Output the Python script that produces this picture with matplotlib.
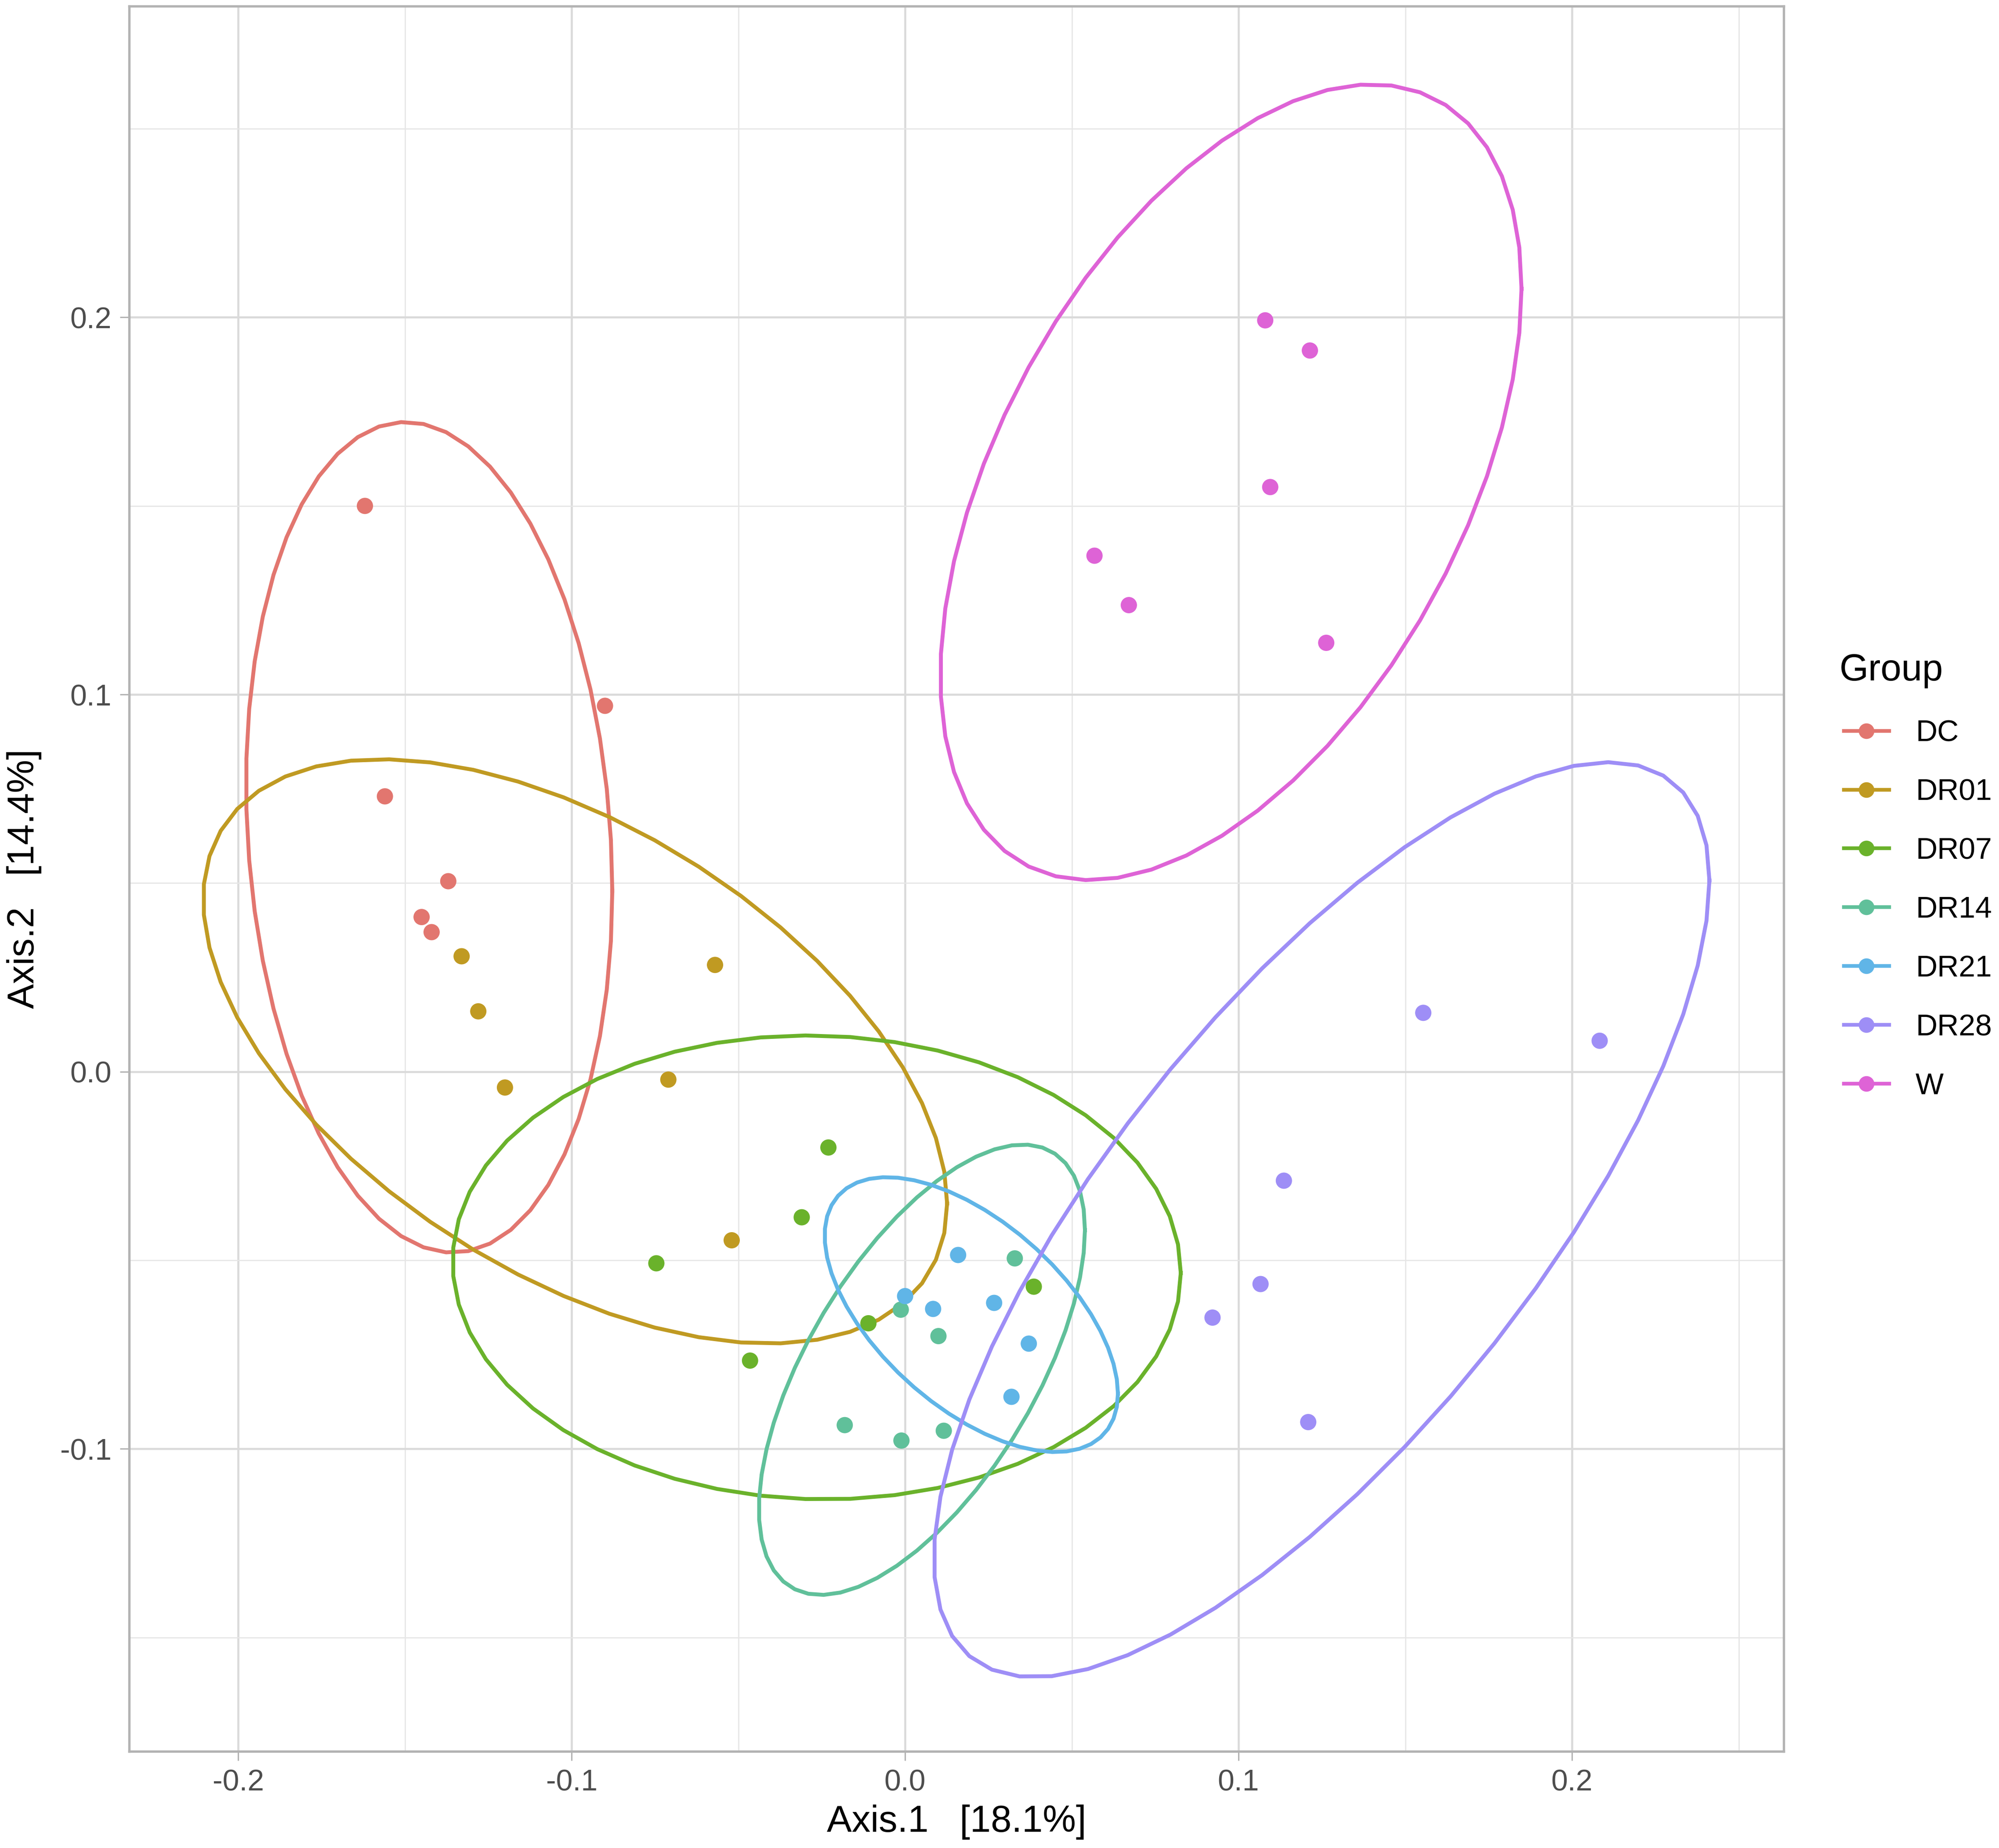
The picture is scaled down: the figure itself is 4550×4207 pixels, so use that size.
import numpy as np
import matplotlib.pyplot as plt
from matplotlib.lines import Line2D
from matplotlib.ticker import MultipleLocator, FormatStrFormatter

plt.rcParams['font.family'] = ['Liberation Sans', 'DejaVu Sans']

# --- data ---
groups = ["DC", "DR01", "DR07", "DR14", "DR21", "DR28", "W"]
colors = ["#E2766F", "#C09A22", "#6AB22B", "#60C09A", "#60B5E7", "#9E8EF6", "#DE63D6"]

axis1_dc = [-0.162, -0.090, -0.156, -0.137, -0.145, -0.142]
axis2_dc = [0.150, 0.097, 0.073, 0.0505, 0.041, 0.037]
axis1_dr01 = [-0.133, -0.128, -0.120, -0.057, -0.071, -0.052]
axis2_dr01 = [0.0306, 0.016, -0.0042, 0.0283, -0.0021, -0.0447]
axis1_dr07 = [-0.023, -0.031, -0.0746, -0.011, -0.0465, 0.0386]
axis2_dr07 = [-0.0201, -0.0386, -0.0508, -0.0667, -0.0766, -0.057]
axis1_dr14 = [0.0329, -0.0013, 0.010, -0.0181, -0.0011, 0.0116]
axis2_dr14 = [-0.0495, -0.0631, -0.0701, -0.0937, -0.0978, -0.0952]
axis1_dr21 = [0.0159, 0.000, 0.0084, 0.0267, 0.0371, 0.0319]
axis2_dr21 = [-0.0486, -0.0595, -0.0629, -0.0613, -0.0721, -0.0862]
axis1_dr28 = [0.1554, 0.2083, 0.1136, 0.1066, 0.0922, 0.1209]
axis2_dr28 = [0.0156, 0.0082, -0.0289, -0.0563, -0.0652, -0.0929]
axis1_w = [0.108, 0.1214, 0.1095, 0.0568, 0.0671, 0.1263]
axis2_w = [0.1992, 0.1912, 0.155, 0.1368, 0.1237, 0.1137]

axis1 = [axis1_dc, axis1_dr01, axis1_dr07, axis1_dr14, axis1_dr21, axis1_dr28, axis1_w]
axis2 = [axis2_dc, axis2_dr01, axis2_dr07, axis2_dr14, axis2_dr21, axis2_dr28, axis2_w]

xlabel = "Axis.1   [18.1%]"
ylabel = "Axis.2   [14.4%]"


def cov_trob(x, nu=5, maxit=25, tol=0.01):
    # same iteration as MASS::cov.trob (multivariate t)
    n, p = x.shape
    wt = np.ones(n)
    loc = x.mean(axis=0)
    w = np.sqrt(wt)
    for it in range(maxit):
        w0 = w
        X = x - loc
        u, d, vt = np.linalg.svd(np.sqrt(w / w.sum())[:, None] * X, full_matrices=False)
        wX = X @ vt.T @ np.diag(1 / d)
        Q = (wX ** 2).sum(axis=1)
        w = wt * (nu + p) / (nu + Q)
        loc = (w[:, None] * x).sum(axis=0) / w.sum()
        if np.all(np.abs(w - w0) < tol):
            break
    sX = np.sqrt(w)[:, None] * X
    return sX.T @ sX / wt.sum(), loc


def ellipse(xs, ys, level=0.95, segments=51):
    # like ggplot2 stat_ellipse(type="t")
    data = np.column_stack([xs, ys])
    dfd = len(xs) - 1
    shape, center = cov_trob(data)
    qf = dfd / 2.0 * ((1 - level) ** (-2.0 / dfd) - 1)  # F(2, dfd) quantile
    radius = np.sqrt(2 * qf)
    ang = np.arange(segments + 1) * 2 * np.pi / segments
    circle = np.column_stack([np.cos(ang), np.sin(ang)])
    chol = np.linalg.cholesky(shape).T
    pts = center + radius * circle @ chol
    return pts[:, 0], pts[:, 1]


W, H, DPI = 4550, 4207, 556
fig = plt.figure(figsize=(W / DPI, H / DPI), dpi=DPI)
left, right, top, bottom = 294, 4060, 14, 3987
ax = fig.add_axes([left / W, 1 - bottom / H, (right - left) / W, (bottom - top) / H])

for g, c, xs, ys in zip(groups, colors, axis1, axis2):
    ex, ey = ellipse(xs, ys)
    ax.plot(ex, ey, color=c, lw=1.15, zorder=3)
    ax.scatter(xs, ys, s=23, color=c, edgecolors='none', zorder=4)

ax.set_xlim(-0.2327, 0.2635)
ax.set_ylim(-0.1802, 0.2825)
ax.xaxis.set_major_locator(MultipleLocator(0.1))
ax.xaxis.set_minor_locator(MultipleLocator(0.05))
ax.yaxis.set_major_locator(MultipleLocator(0.1))
ax.yaxis.set_minor_locator(MultipleLocator(0.05))
ax.xaxis.set_major_formatter(FormatStrFormatter('%.1f'))
ax.yaxis.set_major_formatter(FormatStrFormatter('%.1f'))

ax.grid(which='major', color='#DADADA', lw=0.6, zorder=0)
ax.grid(which='minor', color='#E6E6E6', lw=0.35, zorder=0)
ax.set_axisbelow(True)
for s in ax.spines.values():
    s.set_color('#B3B3B3')
    s.set_linewidth(0.7)
ax.tick_params(which='major', length=2.75, width=0.4, color='#B3B3B3',
               labelsize=8.8, labelcolor='#4D4D4D', pad=2.4)
ax.tick_params(which='minor', length=0)

ax.set_xlabel(xlabel, fontsize=11, va='baseline')
ax.xaxis.set_label_coords(0.5, -(4170 - bottom) / (bottom - top))
ax.set_ylabel(ylabel, fontsize=11, rotation_mode='anchor', va='baseline', ha='center')
ax.yaxis.set_label_coords(-(left - 77) / (right - left), 0.5)

# legend
fig.text(4187 / W, 1 - 1549 / H, "Group", fontsize=11, va='baseline', ha='left')
key_y = [1664, 1798, 1931, 2065, 2199, 2333, 2467]
for g, c, ky in zip(groups, colors, key_y):
    yy = 1 - ky / H
    fig.add_artist(Line2D([4197 / W, 4300 / W], [yy, yy], color=c, lw=1.1,
                          transform=fig.transFigure))
    fig.add_artist(Line2D([4248 / W], [yy], color=c, marker='o', ms=4.6, mec='none',
                          transform=fig.transFigure))
    fig.text(4360 / W, 1 - (ky + 24) / H, g, fontsize=8.8, va='baseline', ha='left')

fig.savefig("out.png", dpi=DPI)
